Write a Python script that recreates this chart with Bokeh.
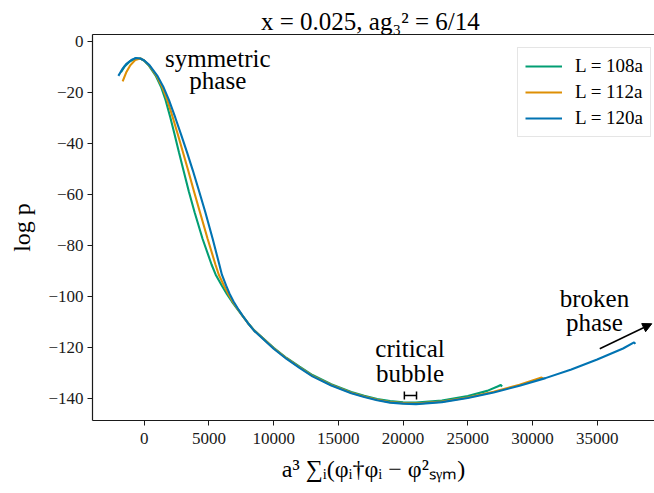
from bokeh.plotting import figure
from bokeh.models import (Range1d, LinearAxis, FixedTicker, Label, Arrow, NormalHead,
                          Whisker, TeeHead, ColumnDataSource, Span)
from bokeh.embed import file_html
from bokeh.resources import INLINE

# Histogram of log p against the order parameter, three lattice sizes
labels = ["L = 108a", "L = 112a", "L = 120a"]
colors = ["#029e73", "#de8f05", "#0173b2"]

l108_x = [-1800, -1500, -1100, -700, -300, -30, 330, 880, 1320, 1650, 2020, 2340, 2680, 3024,
          3450, 3890, 4510, 5200, 5520, 5990, 6380, 6770, 7240, 7590, 8000, 8500, 10000, 11000,
          12000, 13000, 14450, 16000, 17000, 18000, 19000, 20000, 21000, 23000, 25000, 26500,
          27300, 27550, 27650]
l108_y = [-12.2, -9.8, -7.9, -6.8, -6.8, -7.6, -9.4, -13.5, -18.2, -23.1, -30.0, -36.5, -43.5,
          -50.5, -59.0, -67.0, -77.5, -87.5, -91.5, -95.7, -99.0, -102.0, -105.3, -107.6,
          -110.3, -113.3, -120.1, -124.1, -127.5, -130.8, -134.4, -137.4, -138.9, -140.2,
          -141.0, -141.5, -141.6, -140.8, -139.0, -137.0, -135.3, -134.7, -135.3]

l112_x = [-1670, -1400, -1100, -700, -300, 0, 365, 940, 1410, 1780, 2210, 2590, 2990, 3384,
          3850, 4305, 4900, 5500, 5760, 6155, 6490, 6835, 7270, 7600, 8000, 8500, 10000, 11000,
          12000, 13000, 14450, 16000, 17000, 18000, 19000, 20000, 21000, 23000, 25000, 27000,
          29000, 30700, 30850]
l112_y = [-15.8, -12.3, -9.6, -7.4, -6.8, -7.6, -9.4, -13.5, -18.2, -23.1, -30.0, -36.5, -43.5,
          -50.5, -59.0, -67.0, -77.5, -87.5, -91.5, -95.7, -99.0, -102.0, -105.3, -107.6,
          -110.4, -113.4, -120.3, -124.3, -127.8, -131.1, -134.7, -137.7, -139.2, -140.5,
          -141.4, -141.8, -142.0, -141.2, -139.6, -137.3, -134.6, -131.8, -132.3]

l120_x = [-2000, -1700, -1400, -1000, -640, -300, 0, 400, 1000, 1500, 1911, 2400, 2840, 3300,
          3744, 4250, 4720, 5290, 5800, 6000, 6320, 6600, 6900, 7300, 7610, 8000, 8500, 10000,
          11000, 12000, 13000, 14450, 16000, 17000, 18000, 19000, 20000, 21000, 23000, 25000,
          27000, 29000, 31000, 33000, 35000, 37000, 37850, 37950]
l120_y = [-13.6, -11.0, -9.0, -7.4, -6.6, -6.8, -7.6, -9.4, -13.5, -18.2, -23.1, -30.0, -36.5,
          -43.5, -50.5, -59.0, -67.0, -77.5, -87.5, -91.5, -95.7, -99.0, -102.0, -105.3,
          -107.6, -110.4, -113.5, -120.5, -124.5, -128.0, -131.3, -134.9, -137.9, -139.4,
          -140.7, -141.6, -142.0, -142.2, -141.4, -139.8, -137.6, -135.0, -132.0, -128.6,
          -124.7, -120.4, -118.0, -118.6]

series_x = [l108_x, l112_x, l120_x]
series_y = [l108_y, l112_y, l120_y]

# critical bubble estimate with its uncertainty
bubble_x = [20570]
bubble_err = [470]
bubble_y = [-138.8]

x_ticks = [0, 5000, 10000, 15000, 20000, 25000, 30000, 35000]
y_ticks = [0, -20, -40, -60, -80, -100, -120, -140]

FONT = "Liberation Serif"
INK = "#1a1a1a"

p = figure(width=654, height=493,
           x_range=Range1d(-4000, 39430), y_range=Range1d(-148.6, 2.6),
           output_backend="svg", toolbar_location=None,
           min_border_left=92, min_border_right=0, min_border_top=34, min_border_bottom=73,
           x_axis_label="a³ ∑ᵢ(φᵢ†φᵢ − φ²ₛᵧₘ)", y_axis_label="log p")
p.outline_line_color = None
p.grid.visible = False
p.background_fill_color = "white"
p.border_fill_color = "white"

p.title.text = "x = 0.025,  ag₃² = 6/14"
p.title.align = "center"
p.title.text_font = FONT
p.title.text_font_size = "25px"
p.title.text_font_style = "normal"
p.title.text_color = "black"
p.title.standoff = 0

for ax in (p.xaxis[0], p.yaxis[0]):
    ax.axis_line_color = INK
    ax.axis_line_width = 1.2
    ax.major_tick_line_color = INK
    ax.major_tick_in = 0
    ax.major_tick_out = 5
    ax.minor_tick_line_color = None
    ax.major_label_text_font = FONT
    ax.major_label_text_font_size = "17px"
    ax.major_label_text_color = INK
    ax.axis_label_text_font = FONT
    ax.axis_label_text_font_size = "24px"
    ax.axis_label_text_font_style = "normal"
    ax.axis_label_text_color = "black"

p.xaxis.ticker = FixedTicker(ticks=x_ticks)
p.yaxis.ticker = FixedTicker(ticks=y_ticks)
p.yaxis.major_label_overrides = {t: (str(t).replace("-", "\u2212")) for t in y_ticks}
p.xaxis.major_label_standoff = 7
p.xaxis.axis_label_standoff = 9
p.yaxis.major_label_standoff = 4
p.yaxis.axis_label_standoff = 10

# top frame edge
top = LinearAxis(ticker=FixedTicker(ticks=[]), major_label_text_font_size="0px",
                 major_tick_out=0, major_tick_in=0, minor_tick_out=0,
                 axis_line_color=INK, axis_line_width=1.2)
p.add_layout(top, "above")
p.add_layout(Span(location=2.6, dimension="width", line_color=INK, line_width=1.2))

for xs, ys, c, lab in zip(series_x, series_y, colors, labels):
    p.line(xs, ys, line_color=c, line_width=2.1, legend_label=lab)

leg = p.legend[0]
leg.location = (425, 283)
leg.label_text_font = FONT
leg.label_text_font_size = "19px"
leg.label_text_color = "black"
leg.glyph_width = 37
leg.glyph_height = 22
leg.label_height = 22
leg.label_standoff = 13
leg.spacing = 4
leg.padding = 7
leg.margin = 0
leg.border_line_color = "#cccccc"
leg.border_line_width = 1
leg.background_fill_alpha = 0.8

# critical bubble marker
bsrc = ColumnDataSource(data=dict(
    y=bubble_y,
    lo=[c - e for c, e in zip(bubble_x, bubble_err)],
    hi=[c + e for c, e in zip(bubble_x, bubble_err)]))
p.add_layout(Whisker(source=bsrc, base="y", lower="lo", upper="hi", dimension="width",
                     line_color="black", line_width=1.5,
                     lower_head=TeeHead(size=8, line_color="black", line_width=1.5),
                     upper_head=TeeHead(size=8, line_color="black", line_width=1.5)))

def note(x, y, text):
    p.add_layout(Label(x=x, y=y, text=text, text_font=FONT, text_font_size="25px",
                       text_align="center", text_baseline="middle", text_color="black"))

note(5680, -6.8, "symmetric")
note(5680, -15.6, "phase")
note(20540, -120.4, "critical")
note(20540, -130.2, "bubble")
note(34790, -100.8, "broken")
note(34790, -110.2, "phase")

p.add_layout(Arrow(x_start=35200, y_start=-120.5, x_end=39220, y_end=-110.7,
                   line_color="black", line_width=1.5,
                   end=NormalHead(size=9, fill_color="black", line_color="black")))

open("out.html", "w").write(file_html(p, INLINE))
